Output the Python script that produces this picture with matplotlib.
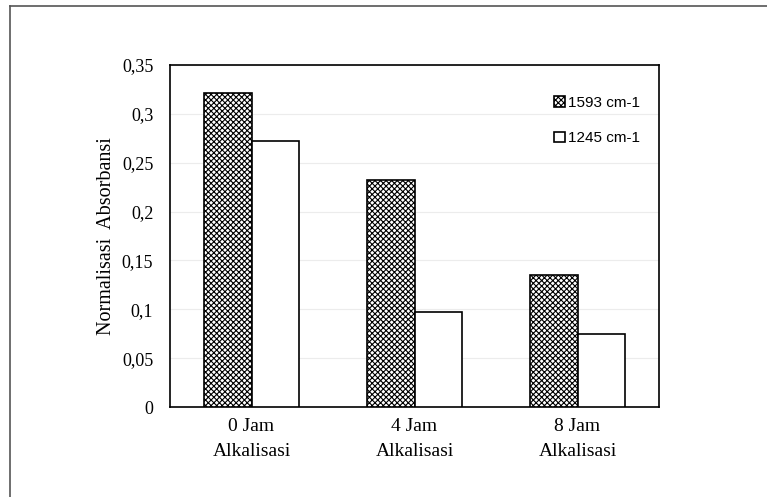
import numpy as np
import matplotlib
matplotlib.use('Agg')
import matplotlib.pyplot as plt
from matplotlib.lines import Line2D

categories = ['0 Jam\nAlkalisasi', '4 Jam\nAlkalisasi', '8 Jam\nAlkalisasi']
series_names = ['1593 cm-1', '1245 cm-1']
val_1593 = [0.321, 0.232, 0.135]
val_1245 = [0.272, 0.097, 0.075]
yticks = [0, 0.05, 0.1, 0.15, 0.2, 0.25, 0.3, 0.35]
ytick_labels = ['0', '0,05', '0,1', '0,15', '0,2', '0,25', '0,3', '0,35']

plt.rcParams['hatch.linewidth'] = 0.8

fig = plt.figure(figsize=(7.67, 4.97), dpi=100)
ax = fig.add_axes([170 / 767, 90 / 497, 489 / 767, 342 / 497])

x = np.arange(len(categories))
w = 0.29
ax.bar(x - w / 2, val_1593, w, color='white', edgecolor='black', hatch='xxxxxx',
       linewidth=1.2, label=series_names[0], zorder=3)
ax.bar(x + w / 2, val_1245, w, color='white', edgecolor='black',
       linewidth=1.2, label=series_names[1], zorder=3)

ax.set_xlim(-0.5, 2.5)
ax.set_ylim(0, 0.35)
ax.set_yticks(yticks)
ax.set_yticklabels(ytick_labels, family='Liberation Serif', fontsize=13)
ax.set_xticks(x)
ax.set_xticklabels(categories, family='Liberation Serif', fontsize=14, linespacing=1.6)
ax.tick_params(length=0, pad=12)
ax.tick_params(axis='x', pad=8)
ax.grid(axis='y', color='#ececec', linewidth=0.8, zorder=0)
for s in ax.spines.values():
    s.set_linewidth(1.2)
ax.set_ylabel('Normalisasi  Absorbansi', family='Liberation Serif', fontsize=14.5)
ax.yaxis.set_label_coords(-0.11, 0.5)

leg = ax.legend(loc='upper right', frameon=False, prop={'family': 'Liberation Sans', 'size': 11},
                handlelength=0.7, handleheight=0.7, handletextpad=0.25, labelspacing=1.4,
                bbox_to_anchor=(0.99, 0.95))

# partial outer frame (top and left edges only)
fig.add_artist(Line2D([10 / 767, 1], [1 - 6 / 497, 1 - 6 / 497], color='#555555', linewidth=1.2))
fig.add_artist(Line2D([10 / 767, 10 / 767], [0, 1 - 6 / 497], color='#555555', linewidth=1.2))

fig.savefig('out.png', dpi=100, facecolor='white')
